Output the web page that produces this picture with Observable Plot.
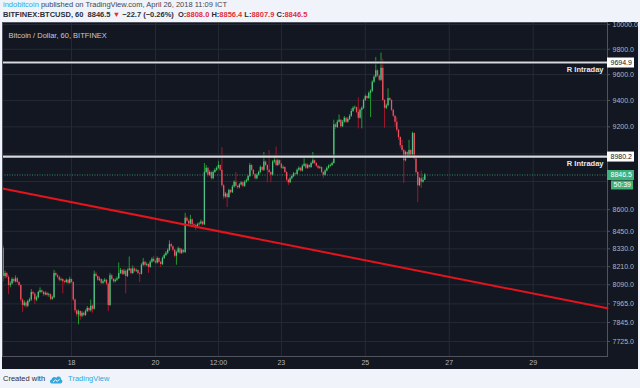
<!DOCTYPE html>
<html><head><meta charset="utf-8">
<script src="https://cdn.jsdelivr.net/npm/d3@7"></script>
<script src="https://cdn.jsdelivr.net/npm/@observablehq/plot@0.6"></script>
<style>
html,body{margin:0;padding:0;background:#f0f3fa;width:640px;height:388px;overflow:hidden;font-family:"Liberation Sans",Arial,sans-serif;}
.hd{position:absolute;left:3px;font-size:7.5px;line-height:10px;white-space:nowrap;color:#434651}
#h1{top:0px}
#h2{top:10px;font-weight:bold;color:#2a2e39}
.red{color:#e0303c}
.blue{color:#2fa7e0}
#chart{position:absolute;left:2px;top:22px;width:636px;height:347px;background:#131722}
#foot{position:absolute;left:3px;top:374px;font-size:7.5px;line-height:10px;white-space:nowrap;color:#2a2e39;display:flex;align-items:center;gap:4px}
</style></head>
<body>
<div id="h1" class="hd"><span class="blue">indobitcoin</span> published on TradingView.com, April 26, 2018 11:09 ICT</div>
<div id="h2" class="hd">BITFINEX:BTCUSD, 60&nbsp; 8846.5 <span class="red">▼</span> −22.7 (−0.26%)&nbsp; O:<span class="red">8808.0</span> H:<span class="red">8856.4</span> L:<span class="red">8807.9</span> C:<span class="red">8846.5</span></div>
<div id="chart"></div>
<div id="foot"><span>Created with</span>
<svg width="14" height="9" viewBox="0 0 14 9"><path d="M3 8.5 C0.5 8.5 0.3 5 2.6 4.6 C2.8 2 6 1 7.3 3 C8.5 0.5 12.5 1.5 12 4.6 C14 5 13.8 8.5 11.5 8.5 Z" fill="#2fa7e0"/><path d="M4 7.2 L6.5 4.8 L8.3 6.4 L10.5 4.2" stroke="#fff" stroke-width="1" fill="none"/></svg>
<span class="blue" style="margin-left:1px">TradingView</span></div>
<script>
// ---------- data ----------
const chartTitle = "Bitcoin / Dollar, 60, BITFINEX";
const firstCandleTime = "2018-04-16T09:00Z";   // hourly candles
const firstOpen = 8335;
const closes = [
8145,8165,8140,8085,8095,8125,8110,8130,8105,8085,
7990,7955,7970,7950,7980,7990,8040,8030,7990,8005,
8040,8050,8040,8025,8035,8020,8025,7995,8005,8165,
8150,8140,8120,8125,8110,8105,8120,8100,8125,8105,
7990,7920,7895,7915,7885,7905,7890,7915,7935,7920,
7950,7930,8160,8145,8120,8125,8100,8110,8120,8095,
7955,8150,8125,8110,8120,8130,8165,8185,8160,8180,
8145,8185,8195,8165,8195,8180,8185,8165,8160,8220,
8240,8220,8225,8205,8240,8260,8245,8235,8265,8240,
8225,8265,8285,8300,8320,8360,8345,8320,8280,8305,
8330,8300,8320,8305,8540,8520,8500,8530,8495,8490,
8475,8495,8500,8515,8495,8865,8895,8845,8865,8820,
8865,8880,8895,8915,8880,8770,8690,8710,8685,8735,
8720,8760,8795,8765,8755,8775,8790,8765,8795,8805,
8835,8915,8880,8850,8820,8845,8865,8900,8880,8940,
8915,8880,8865,8845,8940,8950,8915,8950,8925,8895,
8900,8865,8810,8790,8820,8835,8855,8850,8880,8895,
8875,8910,8925,8895,8915,8900,8930,8950,8930,8910,
8895,8900,8865,8845,8875,8895,8910,8915,8930,9215,
9195,9235,9250,9200,9235,9265,9235,9255,9280,9315,
9340,9345,9310,9265,9325,9340,9400,9430,9415,9455,
9470,9540,9580,9630,9590,9555,9650,9400,9340,9360,
9415,9400,9325,9280,9235,9175,9120,9060,9025,8950,
9010,8975,9025,8990,9150,8965,8865,8770,8820,8795,
8808,8846.5];
const highs = [
8350,8180,8172,8150,8110,8135,8135,8148,8138,8112,
8092,7998,7985,7978,7990,8002,8058,8048,8036,8015,
8048,8070,8058,8046,8045,8040,8035,8030,8015,8185,
8175,8160,8146,8135,8130,8118,8128,8125,8140,8130,
8110,7998,7928,7925,7920,7915,7912,7925,7948,7942,
7990,7958,8180,8172,8150,8140,8130,8122,8132,8125,
8100,8165,8158,8132,8130,8142,8235,8198,8192,8192,
8188,8195,8275,8200,8215,8202,8195,8190,8172,8230,
8265,8246,8236,8230,8250,8270,8280,8252,8275,8270,
8246,8275,8295,8312,8330,8385,8368,8350,8326,8315,
8342,8336,8330,8326,8575,8550,8528,8560,8536,8505,
8498,8505,8512,8528,8520,8930,8915,8900,8878,8870,
8876,8892,8905,8945,8920,9045,8778,8722,8716,8745,
8742,8772,8805,8865,8772,8785,8800,8795,8805,8818,
8845,8930,8922,8886,8856,8855,8875,8912,8906,9010,
8948,8920,9025,8870,8950,8985,9050,8960,8956,8930,
8912,8906,8870,8816,8830,8845,8865,8862,8890,8905,
8900,8920,8965,8930,8925,8920,8940,9010,8956,8936,
8915,8910,8905,8870,8885,8905,8920,8925,8940,9250,
9225,9250,9290,9256,9248,9278,9270,9268,9292,9335,
9352,9358,9350,9420,9335,9352,9410,9442,9436,9466,
9482,9552,9592,9735,9638,9598,9770,9720,9408,9372,
9490,9422,9406,9332,9286,9270,9182,9126,9100,9032,
9020,9016,9100,9032,9160,9155,8970,8872,8830,8875,
8830,8856.4];
const lows = [
8110,8130,8128,8025,8070,8088,8100,8102,8095,8075,
7975,7910,7945,7935,7942,7972,7982,8018,7962,7980,
7998,8032,8030,8012,8018,8010,8008,7985,7988,7998,
8140,8128,8108,8112,8030,8095,8098,8090,8094,8098,
7980,7905,7880,7830,7860,7876,7880,7884,7908,7910,
7912,7905,7925,8135,8110,8112,8090,8092,8102,8085,
7915,7948,8115,8098,8102,8112,8125,8158,8150,8152,
8030,8138,8178,8155,8158,8170,8172,8155,8105,8155,
8212,8210,8212,8165,8200,8232,8238,8225,8228,8230,
8205,8218,8258,8278,8292,8312,8335,8310,8270,8220,
8298,8290,8292,8296,8298,8510,8488,8494,8485,8478,
8455,8468,8486,8494,8485,8490,8855,8830,8836,8808,
8812,8858,8872,8888,8870,8755,8670,8680,8615,8678,
8710,8714,8752,8755,8742,8748,8768,8755,8758,8788,
8798,8828,8870,8840,8810,8812,8838,8858,8870,8872,
8905,8790,8855,8790,8838,8930,8905,8908,8915,8885,
8886,8855,8798,8770,8784,8812,8828,8840,8844,8872,
8866,8868,8902,8886,8888,8890,8894,8922,8920,8900,
8885,8888,8855,8820,8838,8868,8888,8902,8908,8925,
9180,9188,9228,9190,9194,9228,9225,9228,9248,9272,
9308,9330,9300,9185,9258,9185,9332,9392,9405,9408,
9270,9462,9532,9572,9580,9545,9548,9390,9190,9330,
9352,9390,9315,9270,9200,9160,9100,9040,9010,8785,
8942,8965,8968,8980,8982,8955,8850,8650,8762,8750,
8788,8807.9];
const resistanceLevels = [9694.9, 8980.2];
const resistanceLabel = "R Intraday";
const lastPrice = 8846.5;
const countdown = "50:39";
const trendDates = ["2018-04-16T08:30Z", "2018-04-30T18:30Z"];
const trendPrices = [8750, 7937];
const yTickValues = [10000, 9800, 9600, 9400, 9200, 8600, 8450, 8330, 8210, 8090, 7965, 7845, 7725];
const yGridValues = [10000, 9800, 9600, 9400, 9200, 9000, 8800, 8600, 8450, 8330, 8210, 8090, 7965, 7845, 7725];
const xTickDates = ["2018-04-18T00:00Z", "2018-04-20T00:00Z", "2018-04-21T12:00Z", "2018-04-23T00:00Z", "2018-04-25T00:00Z", "2018-04-27T00:00Z", "2018-04-29T00:00Z"];
const xTickLabels = ["18", "20", "12:00", "23", "25", "27", "29"];

// ---------- build ----------
const t0 = new Date(firstCandleTime).getTime();
const candles = closes.map((c, i) => ({
  date: new Date(t0 + i * 3600e3),
  open: i ? closes[i - 1] : firstOpen,
  close: c, high: highs[i], low: lows[i]
}));
const trend = trendDates.map((d, i) => ({date: new Date(d), price: trendPrices[i]}));
const xTicks = xTickDates.map(d => new Date(d));
const labelMap = new Map(xTicks.map((d, i) => [+d, xTickLabels[i]]));
const up = d => d.close >= d.open;
const fmt = d3.format(".1f");

const W = 636, H = 347, MR = 31, MB = 13;
const plotW = W - MR;

const chart = Plot.plot({
  width: W, height: H,
  marginLeft: 0, marginTop: 0, marginRight: MR, marginBottom: MB,
  style: {background: "#131722", color: "#b2b5be", fontFamily: "Liberation Sans, Arial, sans-serif", fontSize: "7px"},
  x: {type: "utc", domain: [new Date("2018-04-16T08:32Z"), new Date("2018-04-30T18:30Z")]},
  y: {type: "log", domain: [7631, 10016]},
  marks: [
    Plot.ruleY(yGridValues, {stroke: "#262a36", strokeWidth: 1}),
    Plot.ruleX(xTicks, {stroke: "#262a36", strokeWidth: 1}),
    Plot.ruleY([lastPrice], {stroke: "#3d8a66", strokeDasharray: "1,1.5", strokeWidth: 1}),
    Plot.ruleX(candles, {x: "date", y1: "low", y2: "high", stroke: d => up(d) ? "#1f9a2c" : "#a3162a", strokeWidth: 1}),
    Plot.ruleX(candles, {x: "date", y1: "open", y2: "close", stroke: d => up(d) ? "#53c08c" : "#ec5564", strokeWidth: 1.3}),
    Plot.line(trend, {x: "date", y: "price", stroke: "#e3141c", strokeWidth: 2}),
    Plot.ruleY(resistanceLevels, {stroke: "#0c0e14", strokeWidth: 4, strokeOpacity: 0.6}),
    Plot.ruleY(resistanceLevels, {stroke: "#d6d8de", strokeWidth: 2.2}),
    Plot.text(resistanceLevels, {y: d => d, frameAnchor: "right", text: () => resistanceLabel, textAnchor: "end", dx: -4, dy: 7, fill: "#e8e9ed", fontWeight: "bold", fontSize: 7.5}),
    Plot.frame({stroke: "#50535e"}),
    // right price scale: tick marks and labels
    Plot.ruleY(yTickValues, {insetLeft: plotW, insetRight: -3, stroke: "#50535e"}),
    Plot.text(yTickValues, {y: d => d, frameAnchor: "right", dx: 5, text: d => fmt(d), textAnchor: "start", fill: "#b2b5be"}),
    Plot.axisX({anchor: "bottom", ticks: xTicks, tickFormat: d => labelMap.get(+d), tickSize: 0, tickPadding: 4, label: null}),
    // price scale labels
    Plot.ruleY(resistanceLevels, {insetLeft: plotW, insetRight: -27, stroke: "#ffffff", strokeWidth: 10}),
    Plot.text(resistanceLevels, {y: d => d, frameAnchor: "right", dx: 3, text: d => fmt(d), textAnchor: "start", fill: "#131722"}),
    Plot.ruleY([lastPrice], {insetLeft: plotW, insetRight: -27, stroke: "#3fb27a", strokeWidth: 10}),
    Plot.text([lastPrice], {y: d => d, frameAnchor: "right", dx: 3, text: d => fmt(d), textAnchor: "start", fill: "#ffffff"}),
    Plot.ruleY([lastPrice], {insetLeft: plotW + 4, insetRight: -26, dy: 10, stroke: "#3fb27a", strokeWidth: 9}),
    Plot.text([lastPrice], {y: d => d, frameAnchor: "right", dx: 6, dy: 10, text: () => countdown, textAnchor: "start", fill: "#ffffff"}),
    Plot.text([chartTitle], {frameAnchor: "top-left", dx: 6, dy: 10, text: d => d, textAnchor: "start", fill: "#c8cad0", fontSize: 7.5})
  ]
});
document.getElementById("chart").appendChild(chart);
</script>
</body></html>
